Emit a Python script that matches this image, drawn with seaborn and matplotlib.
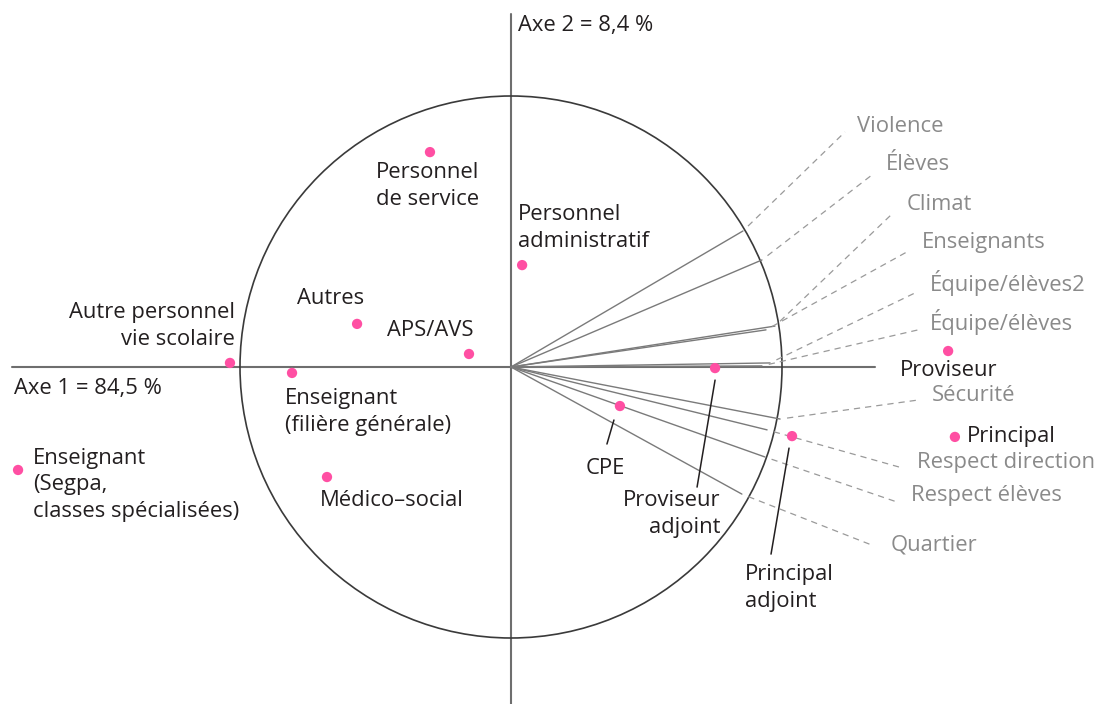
import numpy as np
import pandas as pd
import matplotlib
matplotlib.use("Agg")
import matplotlib.pyplot as plt
from matplotlib.patches import Circle
import seaborn as sns

# ---------------- data (circle radius = 1) ----------------
point_names = ["Personnel\nde service", "Personnel\nadministratif", "Autres", "APS/AVS",
               "Autre personnel\nvie scolaire", "Enseignant\n(filière générale)", "Médico–social",
               "Enseignant\n(Segpa,\nclasses spécialisées)", "CPE", "Proviseur\nadjoint",
               "Principal\nadjoint", "Proviseur", "Principal"]
point_x = [-0.299, 0.041, -0.568, -0.155, -1.037, -0.808, -0.679, -1.819, 0.402, 0.753, 1.037, 1.613, 1.638]
point_y = [0.793, 0.376, 0.159, 0.048, 0.015, -0.022, -0.406, -0.380, -0.144, -0.004, -0.255, 0.059, -0.258]

var_names = ["Violence", "Élèves", "Climat", "Enseignants", "Équipe/élèves2", "Équipe/élèves",
             "Sécurité", "Respect direction", "Respect élèves", "Quartier"]
var_x = [0.856, 0.926, 0.974, 0.941, 0.956, 0.926, 0.993, 0.945, 0.937, 0.852]
var_y = [0.502, 0.395, 0.151, 0.137, 0.015, 0.004, -0.192, -0.232, -0.332, -0.469]

axis1_label = "Axe 1 = 84,5 %"
axis2_label = "Axe 2 = 8,4 %"

# ---------------- layout (pixel offsets, 1 unit = S px) ----------------
S = 271.0
FS = 15.8
# point label: (dx, dy, ha)  dy positive = up
point_lab = [(-2, -34, "center"), (-4, 37, "left"), (-27, 25, "center"), (-39, 23, "center"),
             (5, 37, "right"), (-7, -39, "left"), (-7, -23, "left"), (15, -15, "left"),
             (-15, -62, "center"), (5, -146, "right"), (-47, -152, "left"), (-48, -19, "left"),
             (12, 0, "left")]
point_leader = {8: ((-6, -14), (-13, -38)), 9: ((0, -12), (-18, -119)), 10: ((-3, -12), (-21, -118))}
# variable leader end and label anchor offsets
var_leader = [(102, 99), (110, 85), (118, 113), (141, 78), (147, 71), (156, 36),
              (138, 19), (135, -38), (132, -45), (130, -51)]
var_lab = [(114, 104), (124, 95), (132, 122), (156, 87), (160, 80), (168, 44),
           (152, 24), (150, -33), (146, -39), (149, -51)]

sns.set_theme(style="white")
plt.rcParams["font.family"] = ["Open Sans", "DejaVu Sans"]

fig = plt.figure(figsize=(11.01, 7.04), dpi=100)
ax = fig.add_axes([0, 0, 1, 1])
ax.set_xlim(-511 / S, (1101 - 511) / S)
ax.set_ylim(-(704 - 367) / S, 367 / S)
ax.set_aspect("equal")
ax.axis("off")

# axes
ax.plot([-499 / S, 364 / S], [0, 0], color="#6e6e6e", lw=1.5, zorder=1)
ax.plot([0, 0], [-337 / S, 353 / S], color="#6e6e6e", lw=1.5, zorder=1)
ax.add_patch(Circle((0, 0), 1.0, fill=False, ec="#3a3a3a", lw=1.2, zorder=1))

# vectors
for i, (vx, vy) in enumerate(zip(var_x, var_y)):
    ax.plot([0, vx], [0, vy], color="#7a7a7a", lw=1.0, zorder=2)
    lx, ly = vx + var_leader[i][0] / S, vy + var_leader[i][1] / S
    d = np.array([lx - vx, ly - vy])
    d = d / np.linalg.norm(d)
    sx, sy = vx + d[0] * 7 / S, vy + d[1] * 7 / S
    ax.plot([sx, lx], [sy, ly], color="#9a9a9a", lw=0.9, ls=(0, (5, 4)), zorder=2)
    ax.text(vx + var_lab[i][0] / S, vy + var_lab[i][1] / S, var_names[i], ha="left", va="center",
            fontsize=FS, color="#8a8a8a", zorder=4)

# points
df = pd.DataFrame({"x": point_x, "y": point_y, "name": point_names})
sns.scatterplot(data=df, x="x", y="y", ax=ax, color="#ff4fa3", s=55, edgecolor="none", zorder=5)
ax.set_xlabel("")
ax.set_ylabel("")

for i, (px, py) in enumerate(zip(point_x, point_y)):
    dx, dy, ha = point_lab[i]
    ax.text(px + dx / S, py + dy / S, point_names[i], ha=ha, va="center", fontsize=FS,
            color="#231f20", linespacing=1.33, zorder=6)
    if i in point_leader:
        (a1, b1), (a2, b2) = point_leader[i]
        ax.plot([px + a1 / S, px + a2 / S], [py + b1 / S, py + b2 / S], color="#231f20", lw=1.1, zorder=3)

ax.text(-497 / S, -21 / S, axis1_label, ha="left", va="center", fontsize=FS, color="#231f20")
ax.text(7 / S, 342 / S, axis2_label, ha="left", va="center", fontsize=FS, color="#231f20")

fig.savefig("out.png", dpi=100)
